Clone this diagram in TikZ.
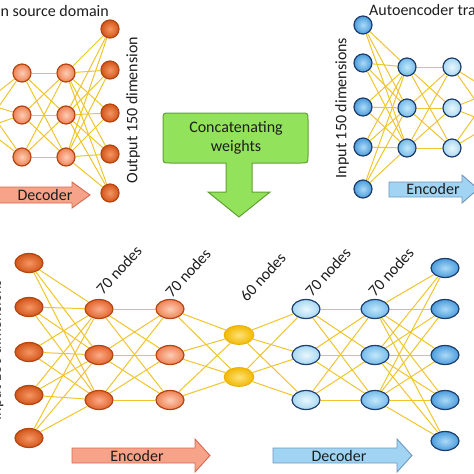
\documentclass[tikz,border=0pt]{standalone}
\usepackage{fontspec}
\setmainfont{Carlito}
\usetikzlibrary{shapes.geometric}

\definecolor{linkgold}{RGB}{240,196,44}
\definecolor{orangerim}{RGB}{180,68,16}
\definecolor{bluerim}{RGB}{30,60,108}
\definecolor{salmonfill}{RGB}{247,163,138}
\definecolor{salmonrim}{RGB}{214,104,80}
\definecolor{skyfill}{RGB}{160,212,242}
\definecolor{skyrim}{RGB}{110,150,190}
\definecolor{concatfill}{RGB}{146,226,92}
\definecolor{concatrim}{RGB}{96,160,50}
\definecolor{textdark}{RGB}{30,30,30}

\tikzset{
  ball/.style={circle, draw=#1, line width=1.2pt, minimum size=18pt, inner sep=0pt},
  egg/.style={ellipse, draw=#1, line width=1.2pt, minimum width=28pt, minimum height=19pt, inner sep=0pt},
  orangedeep/.style={inner color={rgb,255:red,245;green,150;blue,100}, outer color={rgb,255:red,210;green,86;blue,26}},
  orangemid/.style={inner color={rgb,255:red,251;green,172;blue,138}, outer color={rgb,255:red,226;green,100;blue,44}},
  orangepale/.style={inner color={rgb,255:red,253;green,205;blue,182}, outer color={rgb,255:red,238;green,130;blue,84}},
  bluedeep/.style={inner color={rgb,255:red,172;green,218;blue,247}, outer color={rgb,255:red,74;green,156;blue,220}},
  bluemid/.style={inner color={rgb,255:red,196;green,232;blue,250}, outer color={rgb,255:red,116;green,186;blue,234}},
  bluepale/.style={inner color={rgb,255:red,234;green,247;blue,253}, outer color={rgb,255:red,166;green,216;blue,242}},
  yellowfill/.style={inner color={rgb,255:red,253;green,226;blue,122}, outer color={rgb,255:red,242;green,184;blue,0}},
  hidden/.style={ball=orangerim, yellowfill},
  link/.style={draw=linkgold, line width=1pt},
  lbl/.style={font=\fontsize{16}{19}\selectfont, text=textdark, inner sep=1pt},
  salmonarrow/.style={fill=salmonfill, draw=salmonrim, line width=0.9pt},
  skyarrow/.style={fill=skyfill, draw=skyrim, line width=0.9pt},
  concatarrow/.style={fill=concatfill, draw=concatrim, line width=1pt}
}

\begin{document}
\begin{tikzpicture}[x=1pt,y=-1pt]
\useasboundingbox (0,0) rectangle (474,474);
\clip (0,0) rectangle (474,474);

% top left, decoder of the source autoencoder
\foreach \y [count=\i] in {103,128} \node[hidden] (tlh\i) at (-16,\y) {};
\foreach \y [count=\i] in {73,115,157} {
  \node[ball=orangerim, orangepale] (tla\i) at (22,\y) {};
  \node[ball=orangerim, orangepale] (tlb\i) at (66,\y) {};
}
\foreach \y [count=\i] in {29,70,113,154,193} \node[ball=orangerim, orangedeep] (tlo\i) at (110,\y) {};
\foreach \i in {1,2} \foreach \j in {1,2,3} \draw[link] (tlh\i) -- (tla\j);
\foreach \i in {1,2,3} \foreach \j in {1,2,3} \draw[link] (tla\i) -- (tlb\j);
\foreach \i in {1,2,3} \foreach \j in {1,...,5} \draw[link] (tlb\i) -- (tlo\j);

\node[lbl, anchor=base east] (srctitle) at (110,16) {n source domain};
\node[lbl, rotate=90] (outdim) at (133,110) {Output 150 dimension};
\draw[salmonarrow] (-5,187) -- (72,187) -- (72,182) -- (90,195) -- (72,208) -- (72,203) -- (-5,203) -- cycle;
\node[lbl] (tldec) at (45,195) {Decoder};

% top right, encoder of the target autoencoder
\foreach \y [count=\i] in {25,63,107,147,189} \node[ball=bluerim, bluedeep] (tri\i) at (363,\y) {};
\foreach \y [count=\i] in {67,108,148} {
  \node[ball=bluerim, bluemid] (tra\i) at (407,\y) {};
  \node[ball=bluerim, bluepale] (trb\i) at (452,\y) {};
}
\foreach \y [count=\i] in {92,124} \node[hidden] (trh\i) at (492,\y) {};
\foreach \i in {1,...,5} \foreach \j in {1,2,3} \draw[link] (tri\i) -- (tra\j);
\foreach \i in {1,2,3} \foreach \j in {1,2,3} \draw[link] (tra\i) -- (trb\j);
\foreach \i in {1,2,3} \foreach \j in {1,2} \draw[link] (trb\i) -- (trh\j);

\node[lbl, anchor=base west] (trgtitle) at (368,15) {Autoencoder tra};
\node[lbl, rotate=90] (indim) at (342,108) {Input 150 dimensions};
\draw[skyarrow] (389,182) -- (462,182) -- (462,175) -- (478,189) -- (462,203) -- (462,197) -- (389,197) -- cycle;
\node[lbl] (trenc) at (433,189) {Encoder};

% concatenating arrow
\draw[concatarrow] (226,163) -- (170,163) .. controls (163,163) .. (163,156) -- (163,120)
  .. controls (163,113) .. (170,113) -- (301,113) .. controls (308,113) .. (308,120)
  -- (308,156) .. controls (308,163) .. (301,163) -- (252,163) -- (252,192) -- (270,192)
  -- (239,217) -- (208,192) -- (226,192) -- cycle;
\node[lbl, align=center] (concat) at (236,138) {Concatenating\\weights};

% bottom, the joined network
\foreach \y [count=\i] in {263,307,352,395,438} \node[egg=orangerim, orangedeep] (in\i) at (29,\y) {};
\foreach \y [count=\i] in {268,309,355,400,441} \node[egg=bluerim, bluedeep] (out\i) at (445,\y) {};
\foreach \y [count=\i] in {309,355,400} {
  \node[egg=orangerim, orangemid] (ea\i) at (99,\y) {};
  \node[egg=orangerim, orangepale] (eb\i) at (170,\y) {};
  \node[egg=bluerim, bluepale] (da\i) at (306,\y) {};
  \node[egg=bluerim, bluemid] (db\i) at (375,\y) {};
}
\foreach \y [count=\i] in {335,377} \node[ellipse, minimum width=30pt, minimum height=19pt, inner sep=0pt, draw={rgb,255:red,230;green,170;blue,0}, line width=0.6pt, yellowfill] (cz\i) at (239,\y) {};

\foreach \i in {1,...,5} \foreach \j in {1,2,3} \draw[link] (in\i) -- (ea\j);
\foreach \i in {1,2,3} \foreach \j in {1,2,3} \draw[link] (ea\i) -- (eb\j);
\foreach \i in {1,2,3} \foreach \j in {1,2} \draw[link] (eb\i) -- (cz\j);
\foreach \i in {1,2} \foreach \j in {1,2,3} \draw[link] (cz\i) -- (da\j);
\foreach \i in {1,2,3} \foreach \j in {1,2,3} \draw[link] (da\i) -- (db\j);
\foreach \i in {1,2,3} \foreach \j in {1,...,5} \draw[link] (db\i) -- (out\j);

\node[lbl, rotate=48] (nea) at (119,270) {70 nodes};
\node[lbl, rotate=48] (neb) at (188,273) {70 nodes};
\node[lbl, rotate=48] (ncz) at (263,277) {60 nodes};
\node[lbl, rotate=48] (nda) at (328,272) {70 nodes};
\node[lbl, rotate=48] (ndb) at (391,272) {70 nodes};
\node[lbl, rotate=90, anchor=base] (indimB) at (1,350) {Input 150 dimensions};

\draw[salmonarrow] (72,448) -- (195,448) -- (195,439) -- (210,455.5) -- (195,472) -- (195,463) -- (72,463) -- cycle;
\node[lbl] (benc) at (137,456) {Encoder};
\draw[skyarrow] (273,448) -- (397,448) -- (397,439) -- (412,455.5) -- (397,472) -- (397,463) -- (273,463) -- cycle;
\node[lbl] (bdec) at (339,456) {Decoder};
\end{tikzpicture}
\end{document}
